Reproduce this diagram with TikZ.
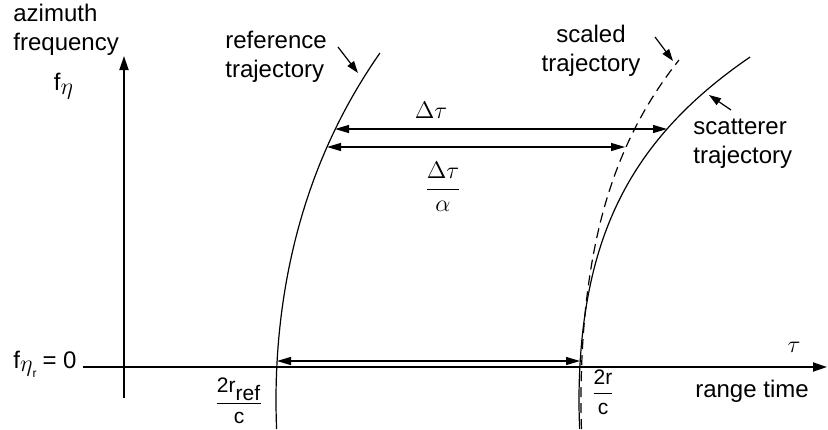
\documentclass[tikz,border=0pt]{standalone}
\usepackage{amsmath}
\usepackage{fontspec}
\setmainfont{Liberation Sans}
\usetikzlibrary{arrows.meta,positioning}

\begin{document}
\begin{tikzpicture}[
    x=0.5pt, y=-0.5pt,
    font=\fontsize{12}{14.5}\selectfont,
    axis/.style={line width=0.9pt, -{Triangle[length=7pt,width=4.5pt]}},
    traj/.style={line width=0.6pt},
    scaledtraj/.style={traj, dash pattern=on 5pt off 3pt},
    dimarr/.style={line width=0.6pt, {Triangle[length=7pt,width=4pt]}-{Triangle[length=7pt,width=4pt]}},
    ptr/.style={line width=0.6pt, -{Triangle[length=6pt,width=4pt]}},
    lbl/.style={align=left, inner sep=0pt},
    fraclbl/.style={lbl, font=\fontsize{10.5}{12}\selectfont}
]
\useasboundingbox (0,0) rectangle (828,429);

% ---- Axes ----
\coordinate (origin) at (124,367);
\coordinate (fbot) at (124,398);
\coordinate (ftop) at (124,56);
\coordinate (tleft) at (83,367);
\coordinate (tright) at (827,367);
\draw[axis] (fbot) -- (ftop);
\draw[axis] (tleft) -- (tright);

\node[lbl, anchor=north west] (faxis) at (13,4) {azimuth\\frequency};
\node[lbl] (feta) at (64,86) {$\text{f}_{\textstyle\eta}$};
\node[lbl, anchor=base east] (fzero) at (77,368) {$\text{f}_{{\textstyle\eta}_{\text{r}}}$\,= 0};
\node[lbl] (tau) at (794,347) {$\tau$};
\node[lbl] (rtime) at (752,391) {range time};

% ---- Trajectories ----
\draw[traj] plot[domain=-0.29:3.47, samples=60, variable=\u]
    ({276 + 7.21*\u*\u + 0.118*\u*\u*\u*\u}, {400 - 100*\u});
\draw[scaledtraj] plot[domain=-0.29:3.40, samples=60, variable=\u]
    ({581 + 5.24*\u*\u + 0.28*\u*\u*\u*\u}, {400 - 100*\u});
\draw[traj] plot[domain=-0.29:3.43, samples=60, variable=\u]
    ({579 + 7.73*\u*\u + 0.579*\u*\u*\u*\u}, {400 - 100*\u});

% ---- Trajectory labels ----
\node[lbl, anchor=north west] (reflbl) at (225,31) {reference\\trajectory};
\coordinate (reftail) at (338,47);
\coordinate (reftip) at (358,73);
\draw[ptr] (reftail) -- (reftip);

\node[lbl, align=center, anchor=north] (scllbl) at (591,25) {scaled\\trajectory};
\coordinate (scltail) at (655,37);
\coordinate (scltip) at (673,61);
\draw[ptr] (scltail) -- (scltip);

\node[lbl, anchor=north west] (scatlbl) at (693,119) {scatterer\\trajectory};
\coordinate (scattail) at (731,110);
\coordinate (scattip) at (709,95);
\draw[ptr] (scattail) -- (scattip);

% ---- Differences ----
\coordinate (dtL) at (335,129);
\coordinate (dtR) at (667,129);
\draw[dimarr] (dtL) -- (dtR);
\node[lbl] (dtlbl) at (431,110) {$\Delta\tau$};

\coordinate (daL) at (327,147);
\coordinate (daR) at (625,147);
\draw[dimarr] (daL) -- (daR);
\node[lbl] (dalbl) at (443,187) {$\dfrac{\Delta\tau}{\alpha}$};

\coordinate (r0L) at (277,361);
\coordinate (r0R) at (580,361);
\draw[dimarr] (r0L) -- (r0R);

\node[fraclbl] (rreflbl) at (239,401) {$\dfrac{\text{2r}_{\textstyle\text{ref}}}{\text{c}}$};
\node[fraclbl] (rlbl) at (603,392) {$\dfrac{\text{2r}}{\text{c}}$};

\end{tikzpicture}
\end{document}
